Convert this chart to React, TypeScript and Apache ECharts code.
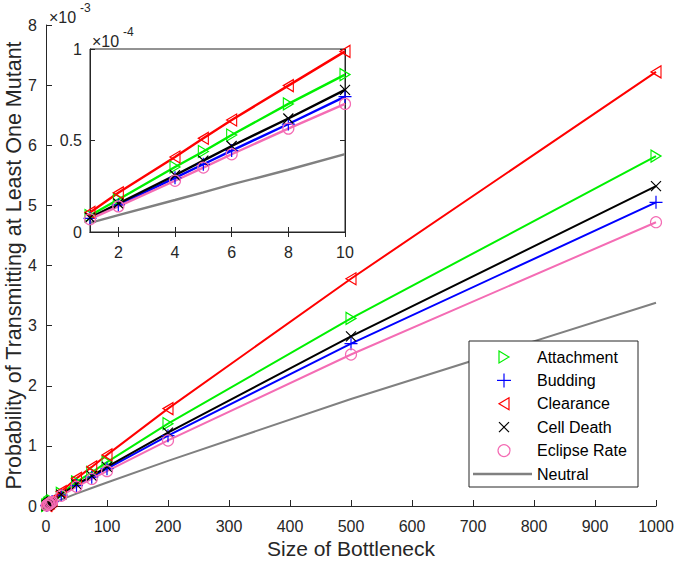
import React, { useEffect, useRef } from "react";
import * as echarts from "echarts";

// Bottleneck sizes (x) and probabilities in units of 1e-3
const bottleneck = [1, 2, 4, 5, 6, 8, 10, 25, 50, 75, 100, 200, 500, 1000];
const attachment = [0.009, 0.0178, 0.0355, 0.044, 0.053, 0.07, 0.086, 0.21, 0.4, 0.56, 0.73, 1.37, 3.12, 5.82];
const budding = [0.0074, 0.0148, 0.0296, 0.037, 0.0445, 0.059, 0.074, 0.18, 0.34, 0.48, 0.62, 1.17, 2.7, 5.05];
const clearance = [0.0107, 0.0214, 0.041, 0.0512, 0.0612, 0.08, 0.0987, 0.24, 0.46, 0.65, 0.85, 1.62, 3.78, 7.22];
const cellDeath = [0.0078, 0.0156, 0.031, 0.039, 0.047, 0.062, 0.0777, 0.19, 0.36, 0.5, 0.65, 1.22, 2.82, 5.32];
const eclipseRate = [0.007, 0.014, 0.028, 0.0352, 0.0425, 0.0565, 0.07, 0.17, 0.32, 0.45, 0.58, 1.09, 2.52, 4.72];
const neutral = [0.005, 0.0092, 0.0175, 0.0217, 0.026, 0.034, 0.0426, 0.105, 0.205, 0.3, 0.39, 0.75, 1.78, 3.38];

const mainXTicks = [0, 100, 200, 300, 400, 500, 600, 700, 800, 900, 1000];
const insetXTicks = [2, 4, 6, 8, 10];

const FONT = "'Liberation Sans', Helvetica, Arial, sans-serif";
const AX = "#262626";

const TRI_R = "path://M0,0L10,6L0,12Z";
const TRI_L = "path://M10,0L0,6L10,12Z";
const PLUS = "path://M6,0L6,12M0,6L12,6";
const CROSS = "path://M0,0L10,10M10,0L0,10";

const defs = [
  { name: "Attachment", data: attachment, color: "#00f000", symbol: TRI_R, size: [10, 12], kind: "triR" },
  { name: "Budding", data: budding, color: "#0000ff", symbol: PLUS, size: 13, kind: "plus" },
  { name: "Clearance", data: clearance, color: "#ff0000", symbol: TRI_L, size: [10, 12], kind: "triL" },
  { name: "Cell Death", data: cellDeath, color: "#000000", symbol: CROSS, size: 10, kind: "cross" },
  { name: "Eclipse Rate", data: eclipseRate, color: "#f46cb4", symbol: "circle", size: 11, kind: "circle" },
  { name: "Neutral", data: neutral, color: "#808080", symbol: "none", size: 0, kind: "line" },
];

function legendGraphics() {
  const left = 469, top = 341, w = 169, h = 146;
  const mx = 504, tx = 537, y0 = 357, step = 23.4;
  const els: any[] = [
    { type: "rect", shape: { x: left, y: top, width: w, height: h }, style: { fill: "#fff", stroke: AX, lineWidth: 1 }, z: 20 },
  ];
  defs.forEach((d, i) => {
    const y = y0 + i * step;
    const st = { stroke: d.color, fill: "none", lineWidth: 1.2 };
    if (d.kind === "triR") els.push({ type: "polygon", shape: { points: [[mx - 5, y - 6], [mx + 5, y], [mx - 5, y + 6]] }, style: st, z: 21 });
    if (d.kind === "triL") els.push({ type: "polygon", shape: { points: [[mx + 5, y - 6], [mx - 5, y], [mx + 5, y + 6]] }, style: st, z: 21 });
    if (d.kind === "plus") {
      els.push({ type: "line", shape: { x1: mx - 7, y1: y, x2: mx + 7, y2: y }, style: st, z: 21 });
      els.push({ type: "line", shape: { x1: mx, y1: y - 7, x2: mx, y2: y + 7 }, style: st, z: 21 });
    }
    if (d.kind === "cross") {
      els.push({ type: "line", shape: { x1: mx - 5, y1: y - 5, x2: mx + 5, y2: y + 5 }, style: st, z: 21 });
      els.push({ type: "line", shape: { x1: mx + 5, y1: y - 5, x2: mx - 5, y2: y + 5 }, style: st, z: 21 });
    }
    if (d.kind === "circle") els.push({ type: "circle", shape: { cx: mx, cy: y, r: 6 }, style: st, z: 21 });
    if (d.kind === "line") els.push({ type: "line", shape: { x1: 473, y1: y, x2: 532, y2: y }, style: { stroke: d.color, lineWidth: 2.5 }, z: 21 });
    els.push({ type: "text", x: tx, y, style: { text: d.name, fontSize: 16, fontFamily: FONT, fill: "#000", verticalAlign: "middle" }, z: 21 });
  });
  return els;
}

export default function App() {
  const ref = useRef<HTMLDivElement>(null);
  useEffect(() => {
    const chart = echarts.init(ref.current!, null, { renderer: "svg" });
    const series: any[] = [];
    defs.forEach((d) => {
      const common = {
        type: "line",
        name: d.name,
        symbol: d.symbol,
        symbolSize: d.size,
        showSymbol: d.symbol !== "none",
        lineStyle: { color: d.color, width: 2 },
        itemStyle: { color: "rgba(0,0,0,0)", borderColor: d.color, borderWidth: 1.2 },
        emphasis: { disabled: true },
        silent: true,
      };
      series.push({
        ...common,
        xAxisIndex: 0,
        yAxisIndex: 0,
        z: 2,
        data: bottleneck.map((x, i) => [x, d.data[i]]),
      });
      series.push({
        ...common,
        xAxisIndex: 1,
        yAxisIndex: 1,
        z: 12,
        lineStyle: { color: d.color, width: 2.4 },
        data: bottleneck.map((x, i) => [x, d.data[i] * 10]).filter((p) => p[0] <= 10),
      });
    });

    const axisLine = { show: true, lineStyle: { color: AX, width: 1 } };
    const label = { color: AX, fontSize: 16, fontFamily: FONT, formatter: (v: number) => String(v) };

    const option: any = {
      animation: false,
      grid: [
        { left: 46, right: 21, top: 25, bottom: 58, z: 0, outerBoundsMode: "none", containLabel: false },
        { left: 90, top: 49, width: 255, height: 183, show: true, backgroundColor: "#fff", borderColor: AX, borderWidth: 1, z: 10, outerBoundsMode: "none", containLabel: false },
      ],
      xAxis: [
        {
          gridIndex: 0, type: "value", min: 0, max: 1000, interval: 100,
          axisLine, axisTick: { show: true, inside: true, length: 6, lineStyle: { color: AX }, customValues: mainXTicks },
          axisLabel: { ...label, margin: 12, customValues: mainXTicks },
          splitLine: { show: false },
          name: "Size of Bottleneck", nameLocation: "middle", nameGap: 32, nameMoveOverlap: false,
          nameTextStyle: { color: AX, fontSize: 21, fontFamily: FONT },
        },
        {
          gridIndex: 1, type: "value", min: 1, max: 10, z: 11,
          axisLine, axisTick: { show: true, inside: true, length: 5, lineStyle: { color: AX }, customValues: insetXTicks },
          axisLabel: { ...label, margin: 12, customValues: insetXTicks },
          splitLine: { show: false },
        },
        {
          gridIndex: 1, type: "value", min: 1, max: 10, position: "top", z: 11,
          axisLine, axisTick: { show: true, inside: true, length: 5, lineStyle: { color: AX }, customValues: insetXTicks },
          axisLabel: { show: false },
          splitLine: { show: false },
        },
      ],
      yAxis: [
        {
          gridIndex: 0, type: "value", min: 0, max: 8, interval: 1,
          axisLine, axisTick: { show: true, inside: true, length: 6, lineStyle: { color: AX } },
          axisLabel: { ...label, margin: 9 },
          splitLine: { show: false },
          name: "Probability of Transmitting at Least One Mutant", nameLocation: "middle", nameGap: 21, nameMoveOverlap: false,
          nameTextStyle: { color: AX, fontSize: 21.5, fontFamily: FONT },
        },
        {
          gridIndex: 1, type: "value", min: 0, max: 1, interval: 0.5, z: 11,
          axisLine, axisTick: { show: true, inside: true, length: 5, lineStyle: { color: AX } },
          axisLabel: { ...label, margin: 8 },
          splitLine: { show: false },
        },
        {
          gridIndex: 1, type: "value", min: 0, max: 1, interval: 0.5, position: "right", z: 11,
          axisLine, axisTick: { show: true, inside: true, length: 5, lineStyle: { color: AX } },
          axisLabel: { show: false },
          splitLine: { show: false },
        },
      ],
      series,
      graphic: [
        { type: "text", x: 49, y: 17, style: { text: "×10", fontSize: 16, fontFamily: FONT, fill: AX, verticalAlign: "middle" }, z: 20 },
        { type: "text", x: 80, y: 8, style: { text: "-3", fontSize: 12, fontFamily: FONT, fill: AX, verticalAlign: "middle" }, z: 20 },
        { type: "text", x: 92, y: 41, style: { text: "×10", fontSize: 16, fontFamily: FONT, fill: AX, verticalAlign: "middle" }, z: 20 },
        { type: "text", x: 123, y: 32, style: { text: "-4", fontSize: 12, fontFamily: FONT, fill: AX, verticalAlign: "middle" }, z: 20 },
        ...legendGraphics(),
      ],
    };
    chart.setOption(option);
    return () => chart.dispose();
  }, []);
  return <div ref={ref} style={{ position: "fixed", left: 0, top: 0, width: 677, height: 564, background: "#fff" }} />;
}
